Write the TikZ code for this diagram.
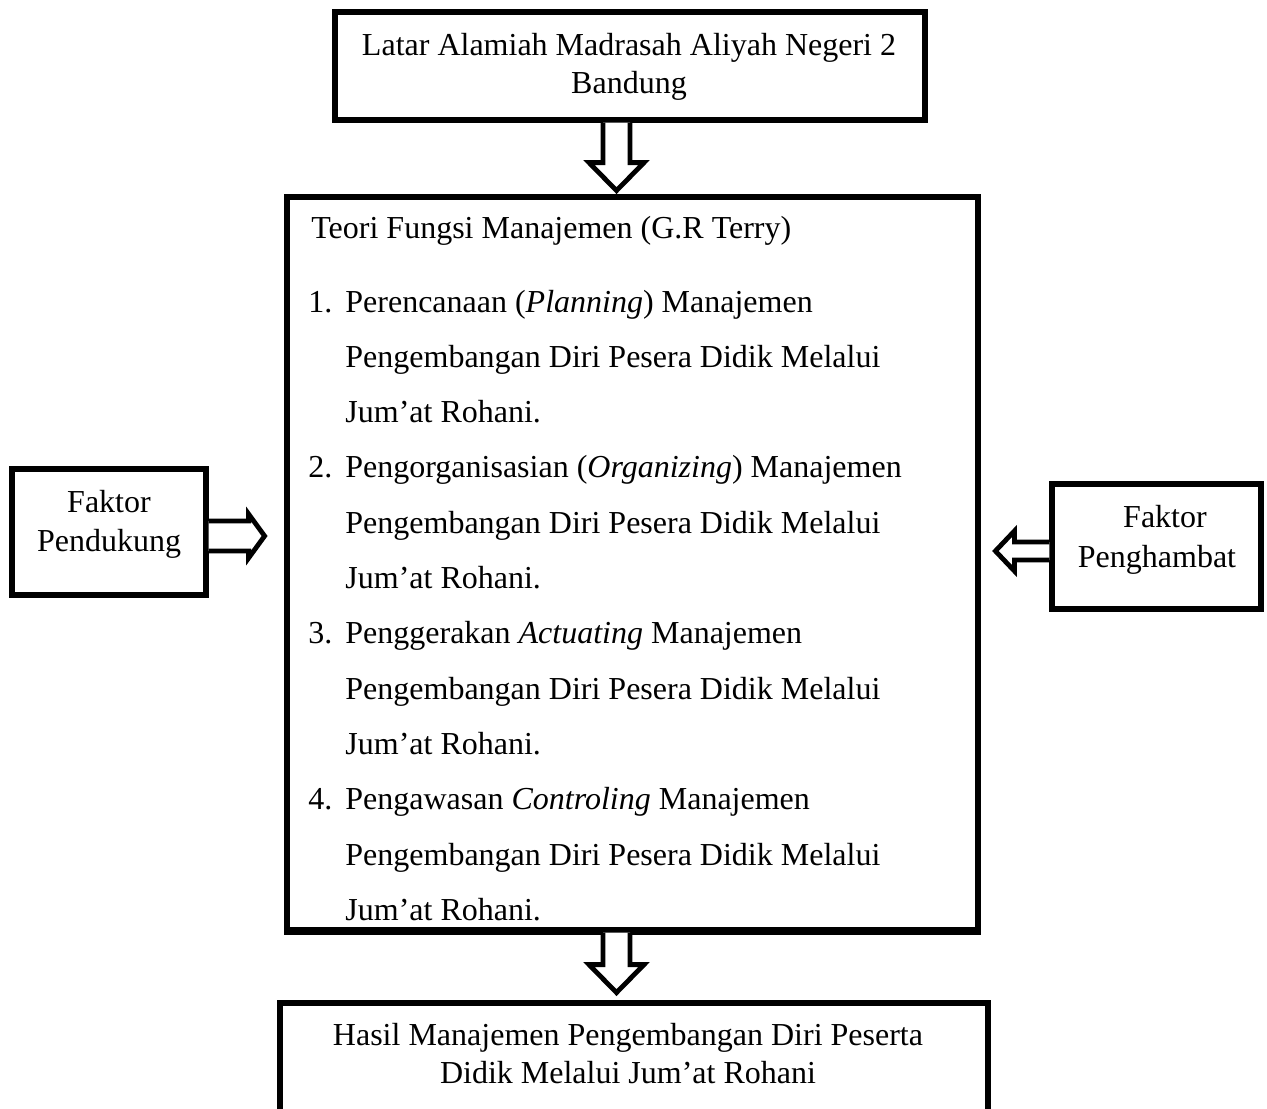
\documentclass[tikz,border=0pt]{standalone}
\usepackage{fontspec}
\setmainfont{Liberation Serif}
\usetikzlibrary{calc}
\begin{document}
\begin{tikzpicture}[x=0.5pt,y=-0.5pt,
  every node/.style={font=\fontsize{16}{19}\selectfont},
  box/.style={draw, line width=2.6pt, rectangle, inner sep=0pt, fill=white},
  txt/.style={anchor=base, inner sep=0pt},
  ltxt/.style={anchor=base west, inner sep=0pt},
  blk/.style={draw, line width=2.4pt, fill=white, line join=miter}]
\path[use as bounding box, clip] (0,0) rectangle (1267,1108);
\fill[white] (0,0) rectangle (1267,1108);
% boxes
\node[box, minimum width=295pt, minimum height=54pt] (top) at (630,66) {};
\node[box, minimum width=345.5pt, minimum height=366.5pt] (main) at (632.5,563.5) {};
\node[box, minimum width=97pt, minimum height=63pt] (left) at (109,532) {};
\node[box, minimum width=104.5pt, minimum height=62.5pt] (right) at (1156.5,546.5) {};
\node[box, minimum width=354pt, minimum height=68.5pt] (bottom) at (634,1071.5) {};
% texts
\node[txt] (t1) at (629,55) {Latar Alamiah Madrasah Aliyah Negeri 2};
\node[txt] (t2) at (629,93) {Bandung};
\node[txt] (l1) at (109,512) {Faktor};
\node[txt] (l2) at (109,551) {Pendukung};
\node[txt] (r1) at (1165,527) {Faktor};
\node[txt] (r2) at (1157,567) {Penghambat};
\node[txt] (b1) at (628,1045) {Hasil Manajemen Pengembangan Diri Peserta};
\node[txt] (b2) at (628,1083) {Didik Melalui Jum’at Rohani};
\node[ltxt] (m0) at (311,238) {Teori Fungsi Manajemen (G.R Terry)};
\node[ltxt] (n1) at (308,312) {1.};
\node[ltxt] (m1) at (345,312) {Perencanaan (\textit{Planning}) Manajemen};
\node[ltxt] (m2) at (345,367.3) {Pengembangan Diri Pesera Didik Melalui};
\node[ltxt] (m3) at (345,422.6) {Jum’at Rohani.};
\node[ltxt] (n2) at (308,477.9) {2.};
\node[ltxt] (m4) at (345,477.9) {Pengorganisasian (\textit{Organizing}) Manajemen};
\node[ltxt] (m5) at (345,533.2) {Pengembangan Diri Pesera Didik Melalui};
\node[ltxt] (m6) at (345,588.5) {Jum’at Rohani.};
\node[ltxt] (n3) at (308,643.8) {3.};
\node[ltxt] (m7) at (345,643.8) {Penggerakan \textit{Actuating} Manajemen};
\node[ltxt] (m8) at (345,699.1) {Pengembangan Diri Pesera Didik Melalui};
\node[ltxt] (m9) at (345,754.4) {Jum’at Rohani.};
\node[ltxt] (n4) at (308,809.7) {4.};
\node[ltxt] (m10) at (345,809.7) {Pengawasan \textit{Controling} Manajemen};
\node[ltxt] (m11) at (345,865) {Pengembangan Diri Pesera Didik Melalui};
\node[ltxt] (m12) at (345,920.3) {Jum’at Rohani.};
% redraw main bottom border over the clipped last line
\draw[line width=2.6pt] (main.south west) -- (main.south east);
% block arrows
\draw[blk] ($(top.south)+(-27,0)$) -- ++(0,40) -- ++(-14,0) -- ++(27.5,28) -- ++(27.5,-28) -- ++(-14,0) -- ++(0,-40);
\draw[blk] ($(main.south)+(-29.5,0)$) -- ++(0,32) -- ++(-14,0) -- ++(27.5,28) -- ++(27.5,-28) -- ++(-14,0) -- ++(0,-32);
\draw[blk] ($(left.east)+(0,-11)$) -- ++(40,0) -- ++(0,-7) -- ++(16,22) -- ++(-16,22) -- ++(0,-7) -- ++(-40,0);
\draw[blk] ($(right.west)+(0,-4.5)$) -- ++(-35,0) -- ++(0,-11) -- ++(-19,20) -- ++(19,20) -- ++(0,-11) -- ++(35,0);
\end{tikzpicture}
\end{document}
